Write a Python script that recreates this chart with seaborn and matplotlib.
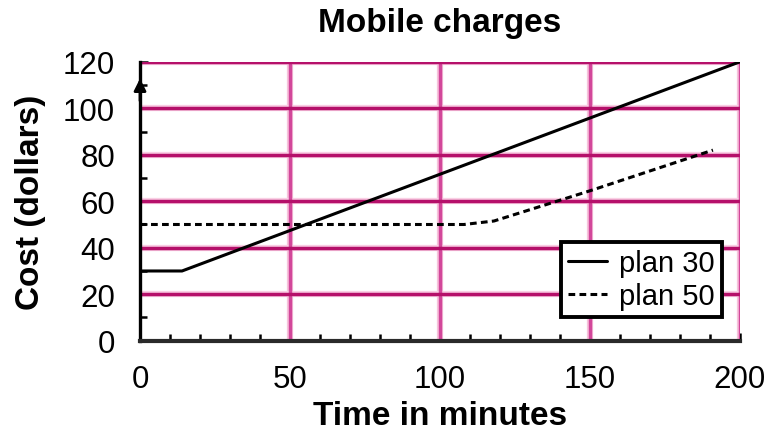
import matplotlib
matplotlib.use("Agg")
import matplotlib.pyplot as plt
import seaborn as sns
import pandas as pd
from matplotlib.ticker import MultipleLocator
from matplotlib.lines import Line2D

# Data
plan30_minutes = [0, 14, 200]
plan30_cost = [30, 30, 120]
plan50_minutes = [0, 108, 118, 150, 191]
plan50_cost = [50, 50, 51.5, 64.5, 82]
x_ticks = [0, 50, 100, 150, 200]
y_ticks = [0, 20, 40, 60, 80, 100, 120]
series_names = ["plan 30", "plan 50"]

df = pd.concat([
    pd.DataFrame({"minutes": plan30_minutes, "cost": plan30_cost, "plan": series_names[0]}),
    pd.DataFrame({"minutes": plan50_minutes, "cost": plan50_cost, "plan": series_names[1]}),
], ignore_index=True)

sns.set_theme(style="white")
plt.rcParams["font.family"] = ["Liberation Sans", "DejaVu Sans"]
plt.rcParams["text.color"] = "black"
plt.rcParams["axes.labelcolor"] = "black"
plt.rcParams["xtick.color"] = "black"
plt.rcParams["ytick.color"] = "black"

fig = plt.figure(figsize=(7.66, 4.39), dpi=100)
ax = fig.add_axes([0.1828, 0.2216, 0.7832, 0.6354])

sns.lineplot(data=df, x="minutes", y="cost", style="plan", color="black",
             dashes={series_names[0]: "", series_names[1]: (2.2, 1.4)},
             linewidth=2.2, ax=ax, legend=False, zorder=5)

ax.set_xlim(0, 200)
ax.set_ylim(0, 120)
ax.set_xticks(x_ticks)
ax.set_yticks(y_ticks)
ax.xaxis.set_minor_locator(MultipleLocator(10))
ax.yaxis.set_minor_locator(MultipleLocator(10))

# grid
for v in x_ticks[1:]:
    ax.axvline(v, color="#F7C3DC", lw=4.5, zorder=1)
    ax.axvline(v, color="#D2479A", lw=2.5, zorder=1.1)
for v in y_ticks[1:]:
    ax.axhline(v, color="#F9CFE4", lw=4.5, zorder=1)
    ax.axhline(v, color="#B5106A", lw=2.5, zorder=1.1)

for s in ["top", "right"]:
    ax.spines[s].set_visible(False)
ax.spines["left"].set_color("black")
ax.spines["left"].set_linewidth(2.4)
ax.spines["bottom"].set_color("#2a2a2a")
ax.spines["bottom"].set_linewidth(3.0)
ax.spines["left"].set_zorder(6)
ax.spines["bottom"].set_zorder(6)

ax.tick_params(axis="both", which="both", direction="in", color="black",
               width=1.8, labelsize=22.5, labelcolor="black",
               bottom=True, left=True, top=False, right=False)
ax.tick_params(axis="x", which="major", length=6, pad=17)
ax.tick_params(axis="y", which="major", length=6, pad=18)
ax.tick_params(axis="both", which="minor", length=5)

# arrow head on the y axis
ax.annotate("", xy=(0, 0.95), xycoords="axes fraction", xytext=(0, 0.85),
            arrowprops=dict(arrowstyle="-|>", color="black", lw=2, mutation_scale=18),
            zorder=7, annotation_clip=False)

ax.set_title("Mobile charges", fontsize=24, fontweight="bold", pad=22, color="black")
ax.set_xlabel("Time in minutes", fontsize=24, fontweight="bold", labelpad=4)
ax.set_ylabel("Cost (dollars)", fontsize=24, fontweight="bold", labelpad=12)

handles = [Line2D([], [], color="black", lw=2.2),
           Line2D([], [], color="black", lw=2.2, dashes=(2.2, 1.4))]
leg = ax.legend(handles, series_names, loc="lower right", bbox_to_anchor=(0.97, 0.085),
                fontsize=21, frameon=True, fancybox=False, handlelength=1.35,
                handletextpad=0.4, borderpad=0.25, labelspacing=0.15, borderaxespad=0)
leg.get_frame().set_edgecolor("black")
leg.get_frame().set_linewidth(2.8)
leg.get_frame().set_facecolor("white")
leg.get_frame().set_alpha(1)
leg.set_zorder(10)

fig.savefig("out.png", dpi=100)
